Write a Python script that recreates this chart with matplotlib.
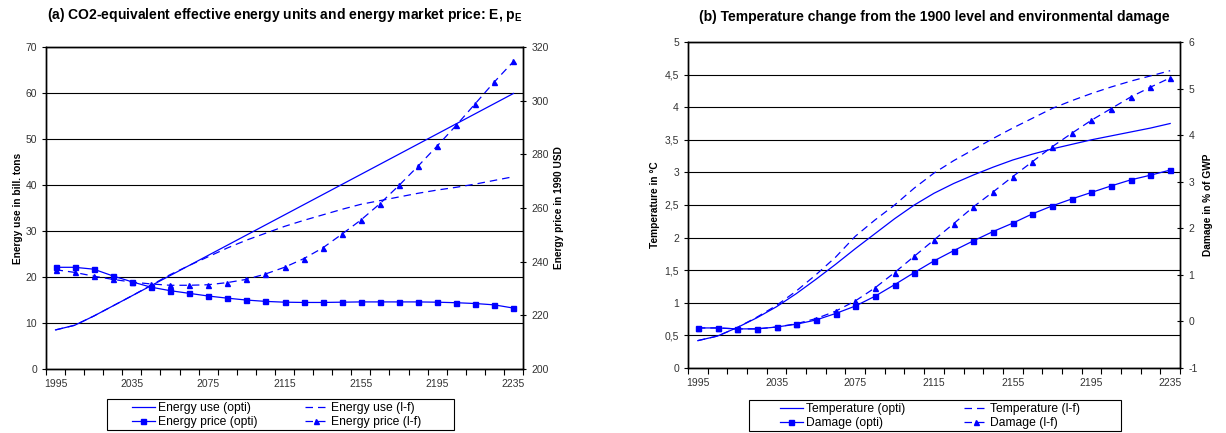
import matplotlib.pyplot as plt
from matplotlib.ticker import FixedLocator, FuncFormatter
from matplotlib.lines import Line2D
from matplotlib.patches import Rectangle

plt.rcParams['font.family'] = ['Liberation Sans', 'DejaVu Sans']
plt.rcParams['mathtext.fontset'] = 'custom'
plt.rcParams['mathtext.bf'] = 'Liberation Sans:bold'
plt.rcParams['mathtext.rm'] = 'Liberation Sans'
plt.rcParams['axes.unicode_minus'] = False

# data: one point every 10 years, 1995..2235
years = [1995 + 10 * i for i in range(25)]
tick_years = [1995, 2035, 2075, 2115, 2155, 2195, 2235]

energy_opti = [8.5, 9.5, 11.5, 13.7, 15.9, 18.1, 20.3, 22.5, 24.7, 26.9, 29.1, 31.3, 33.5,
               35.7, 37.9, 40.1, 42.3, 44.5, 46.7, 48.9, 51.1, 53.3, 55.5, 57.7, 59.9]
energy_lf = [8.5, 9.5, 11.5, 13.7, 15.9, 18.2, 20.5, 22.5, 24.4, 26.3, 28.0, 29.5, 31.0,
             32.3, 33.5, 34.7, 35.8, 36.6, 37.4, 38.2, 38.9, 39.5, 40.2, 41.0, 41.8]
price_opti = [237.9, 237.9, 237.2, 234.7, 232.5, 230.5, 229.2, 228.2, 227.2, 226.4, 225.7,
              225.2, 224.9, 224.8, 224.8, 224.9, 225.0, 225.0, 225.0, 225.0, 224.9, 224.7,
              224.4, 223.9, 222.7]
price_lf = [237.0, 236.0, 234.6, 233.4, 232.4, 231.7, 231.2, 231.2, 231.4, 232.2, 233.4,
            235.4, 237.9, 241.1, 245.1, 250.2, 255.5, 261.6, 268.4, 275.6, 283.1, 290.8,
            298.9, 307.0, 314.6]

temp_opti = [0.42, 0.49, 0.62, 0.77, 0.94, 1.14, 1.36, 1.59, 1.83, 2.06, 2.29, 2.50, 2.68,
             2.83, 2.96, 3.08, 3.19, 3.28, 3.36, 3.43, 3.50, 3.56, 3.62, 3.68, 3.75]
temp_lf = [0.42, 0.49, 0.62, 0.78, 0.96, 1.18, 1.43, 1.70, 2.02, 2.27, 2.50, 2.76, 2.99,
           3.18, 3.35, 3.52, 3.68, 3.83, 3.98, 4.10, 4.21, 4.31, 4.40, 4.48, 4.56]
damage_opti = [-0.14, -0.14, -0.16, -0.16, -0.12, -0.06, 0.03, 0.17, 0.33, 0.54, 0.79, 1.05,
               1.30, 1.52, 1.73, 1.93, 2.11, 2.31, 2.48, 2.63, 2.77, 2.91, 3.04, 3.14, 3.25]
damage_lf = [-0.14, -0.14, -0.16, -0.16, -0.12, -0.05, 0.06, 0.22, 0.44, 0.72, 1.05, 1.40,
             1.75, 2.10, 2.46, 2.78, 3.11, 3.43, 3.75, 4.04, 4.32, 4.57, 4.82, 5.03, 5.23]

BLUE = '#0000ff'
W, H = 1226, 433
x = list(range(len(years)))
tick_pos = [years.index(y) for y in tick_years]

fig = plt.figure(figsize=(W / 100, H / 100), dpi=100)


def setup_x(ax):
    ax.set_xlim(-0.5, len(years) - 0.5)
    ax.set_xticks(tick_pos)
    ax.set_xticklabels([str(y) for y in tick_years], fontsize=7.5)
    ax.tick_params(axis='x', which='major', length=0, pad=7)
    ax.xaxis.set_minor_locator(FixedLocator([i - 0.5 for i in range(len(years) + 1)]))
    ax.tick_params(axis='x', which='minor', length=4, direction='out', width=0.8)


def style_axes(ax, ax2):
    ax.yaxis.grid(True, color='black', linewidth=0.8)
    ax.set_axisbelow(True)
    ax.tick_params(axis='y', labelsize=7.5, length=3, width=0.8, labelcolor='#333333')
    ax2.tick_params(axis='y', labelsize=7.5, length=5, width=0.8, direction='inout',
                    labelcolor='#333333')
    ax.tick_params(axis='x', labelcolor='#333333')
    for a in (ax, ax2):
        for s in a.spines.values():
            s.set_linewidth(1.0)


def legend_box(handles, labels, x0, x1, y0, y1, inset, colspace):
    # boxed legend like the spreadsheet original: fixed frame, entries inside
    fig.patches.append(Rectangle((x0 / W, 1 - y1 / H), (x1 - x0) / W, (y1 - y0) / H,
                                 transform=fig.transFigure, fill=False,
                                 edgecolor='black', linewidth=0.8))
    fig.legend(handles, labels, ncol=2, loc='upper left',
               bbox_to_anchor=((x0 + inset) / W, 1 - (y0 + 3) / H), fontsize=8.7,
               frameon=False, borderpad=0, labelspacing=0.2, handlelength=1.9,
               handletextpad=0.25, columnspacing=colspace, borderaxespad=0)


lf_dash = (0, (6, 4))

# ---------------- panel (a) ----------------
ax = fig.add_axes([46 / W, 64 / H, 477 / W, 322 / H])
ax2 = ax.twinx()
ax.plot(x, energy_opti, color=BLUE, lw=0.9)
ax.plot(x, energy_lf, color=BLUE, lw=0.9, linestyle=lf_dash)
ax2.plot(x, price_opti, color=BLUE, lw=0.9, marker='s', markersize=3.6)
ax2.plot(x, price_lf, color=BLUE, lw=0.9, linestyle=lf_dash, marker='^', markersize=3.6)
ax.set_ylim(0, 70)
ax.set_yticks(range(0, 71, 10))
ax2.set_ylim(200, 320)
ax2.set_yticks(range(200, 321, 20))
setup_x(ax)
style_axes(ax, ax2)
ax.set_ylabel('Energy use in bill. tons', fontsize=7.3, fontweight='bold', labelpad=2)
ax2.set_ylabel('Energy price in 1990 USD', fontsize=7.3, fontweight='bold', labelpad=4)
ax.set_title(r'(a) CO2-equivalent effective energy units and energy market price: E, $\mathbf{p_E}$',
             fontsize=10, fontweight='bold', pad=20)

handles_a = [
    Line2D([], [], color=BLUE, lw=0.9),
    Line2D([], [], color=BLUE, lw=0.9, marker='s', markersize=3.6),
    Line2D([], [], color=BLUE, lw=0.9, linestyle=lf_dash),
    Line2D([], [], color=BLUE, lw=0.9, linestyle=lf_dash, marker='^', markersize=3.6),
]
labels_a = ['Energy use (opti)', 'Energy price (opti)', 'Energy use (l-f)', 'Energy price (l-f)']
legend_box(handles_a, labels_a, 107, 454, 399, 430, 25, 3.9)

# ---------------- panel (b) ----------------
bx = fig.add_axes([688 / W, 65 / H, 492 / W, 326 / H])
bx2 = bx.twinx()
bx.plot(x, temp_opti, color=BLUE, lw=0.9)
bx.plot(x, temp_lf, color=BLUE, lw=0.9, linestyle=lf_dash)
bx2.plot(x, damage_opti, color=BLUE, lw=0.9, marker='s', markersize=3.6)
bx2.plot(x, damage_lf, color=BLUE, lw=0.9, linestyle=lf_dash, marker='^', markersize=3.6)
bx.set_ylim(0, 5)
bx.set_yticks([i * 0.5 for i in range(11)])
bx.yaxis.set_major_formatter(FuncFormatter(lambda v, p: ('%g' % v).replace('.', ',')))
bx2.set_ylim(-1, 6)
bx2.set_yticks(range(-1, 7))
setup_x(bx)
style_axes(bx, bx2)
bx.set_ylabel('Temperature in °C', fontsize=7.3, fontweight='bold', labelpad=3)
bx2.set_ylabel('Damage in % of GWP', fontsize=7.3, fontweight='bold', labelpad=4)
bx.set_title('(b) Temperature change from the 1900 level and environmental damage',
             fontsize=10, fontweight='bold', pad=15)

handles_b = [
    Line2D([], [], color=BLUE, lw=0.9),
    Line2D([], [], color=BLUE, lw=0.9, marker='s', markersize=3.6),
    Line2D([], [], color=BLUE, lw=0.9, linestyle=lf_dash),
    Line2D([], [], color=BLUE, lw=0.9, linestyle=lf_dash, marker='^', markersize=3.6),
]
labels_b = ['Temperature (opti)', 'Damage (opti)', 'Temperature (l-f)', 'Damage (l-f)']
legend_box(handles_b, labels_b, 749, 1121, 400, 431, 31, 4.9)

fig.savefig('out.png', dpi=100)
